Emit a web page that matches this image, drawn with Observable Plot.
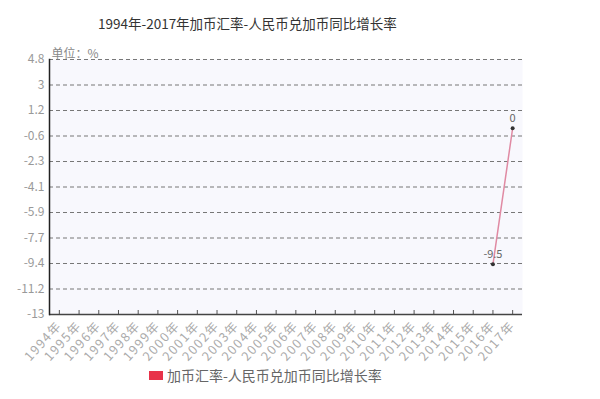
<!DOCTYPE html>
<html><head><meta charset="utf-8">
<script src="https://cdn.jsdelivr.net/npm/d3@7"></script>
<script src="https://cdn.jsdelivr.net/npm/@observablehq/plot@0.6"></script>
<style>
body{margin:0;background:#fff;font-family:"Noto Sans CJK SC","Noto Sans",sans-serif;width:600px;height:399px;overflow:hidden;}
#title{height:44px;line-height:46px;font-size:13.5px;color:#333;padding-left:98px;white-space:nowrap;}
#chart svg{display:block;overflow:visible;}
#chart g[aria-label="x-axis tick label"] text{letter-spacing:1.5px;}
#legend{height:22px;display:flex;align-items:center;padding-left:149px;font-size:14px;color:#666;}
#legend .sw{width:14px;height:9px;background:#e8334a;margin-right:4px;}
</style></head><body>
<div id="title"></div>
<div id="chart"></div>
<div id="legend"><span class="sw"></span><span id="legtext"></span></div>
<script>
const titleText = "1994年-2017年加币汇率-人民币兑加币同比增长率";
const unitLabel = "单位：%";
const seriesName = "加币汇率-人民币兑加币同比增长率";
const years = ["1994年","1995年","1996年","1997年","1998年","1999年","2000年","2001年","2002年","2003年","2004年","2005年","2006年","2007年","2008年","2009年","2010年","2011年","2012年","2013年","2014年","2015年","2016年","2017年"];
const growth = [null,null,null,null,null,null,null,null,null,null,null,null,null,null,null,null,null,null,null,null,null,null,-9.5,0];
const yTickLabels = ["-13","-11.2","-9.4","-7.7","-5.9","-4.1","-2.3","-0.6","1.2","3","4.8"];
const yMin = -13, yMax = 4.8;

document.getElementById("title").textContent = titleText;
document.getElementById("legtext").textContent = seriesName;

const rows = years.map((y, i) => ({year: y, value: growth[i]}));
const pts = rows.filter(d => d.value != null);
const yTicks = yTickLabels.map((_, i) => yMin + i * (yMax - yMin) / (yTickLabels.length - 1));
const fmt = v => { let best = 0; yTicks.forEach((t, i) => { if (Math.abs(t - v) < Math.abs(yTicks[best] - v)) best = i; }); return yTickLabels[best]; };

const chart = Plot.plot({
  width: 600, height: 320,
  marginTop: 15, marginBottom: 50, marginLeft: 49, marginRight: 78,
  style: {fontFamily: '"Noto Sans CJK SC","Noto Sans",sans-serif', background: "#fff"},
  x: {type: "point", domain: years, padding: 0.5, round: false, label: null},
  y: {domain: [yMin, yMax], label: null},
  marks: [
    Plot.frame({fill: "#f8f8fd", stroke: null}),
    Plot.ruleY(yTicks.slice(1), {stroke: "#777", strokeDasharray: "4,3", strokeWidth: 1}),
    Plot.tickX(years, {x: d => d, insetTop: 251, stroke: "#555"}),
    Plot.ruleY([yMin], {stroke: "#444", strokeWidth: 1.5}),
    Plot.frame({anchor: "left", stroke: "#222", strokeWidth: 1.5}),
    Plot.axisY({ticks: yTicks, tickFormat: fmt, tickSize: 0, tickPadding: 5, fill: "#999", fontSize: 12, label: null}),
    Plot.axisX({tickRotate: -48, tickSize: 0, tickPadding: 9, fill: "#aaa", fontSize: 12.5, label: null}),
    Plot.text([unitLabel], {frameAnchor: "top-left", dx: 2, dy: -2, lineAnchor: "bottom", fill: "#888", fontSize: 12}),
    Plot.line(rows, {x: "year", y: "value", stroke: "#e08aa3", strokeWidth: 1.5}),
    Plot.dot(pts, {x: "year", y: "value", r: 2, fill: "#333"}),
    Plot.text(pts, {x: "year", y: "value", text: d => String(d.value), dy: -10, fill: "#666", fontSize: 11})
  ]
});
document.getElementById("chart").appendChild(chart);
</script>
</body></html>
